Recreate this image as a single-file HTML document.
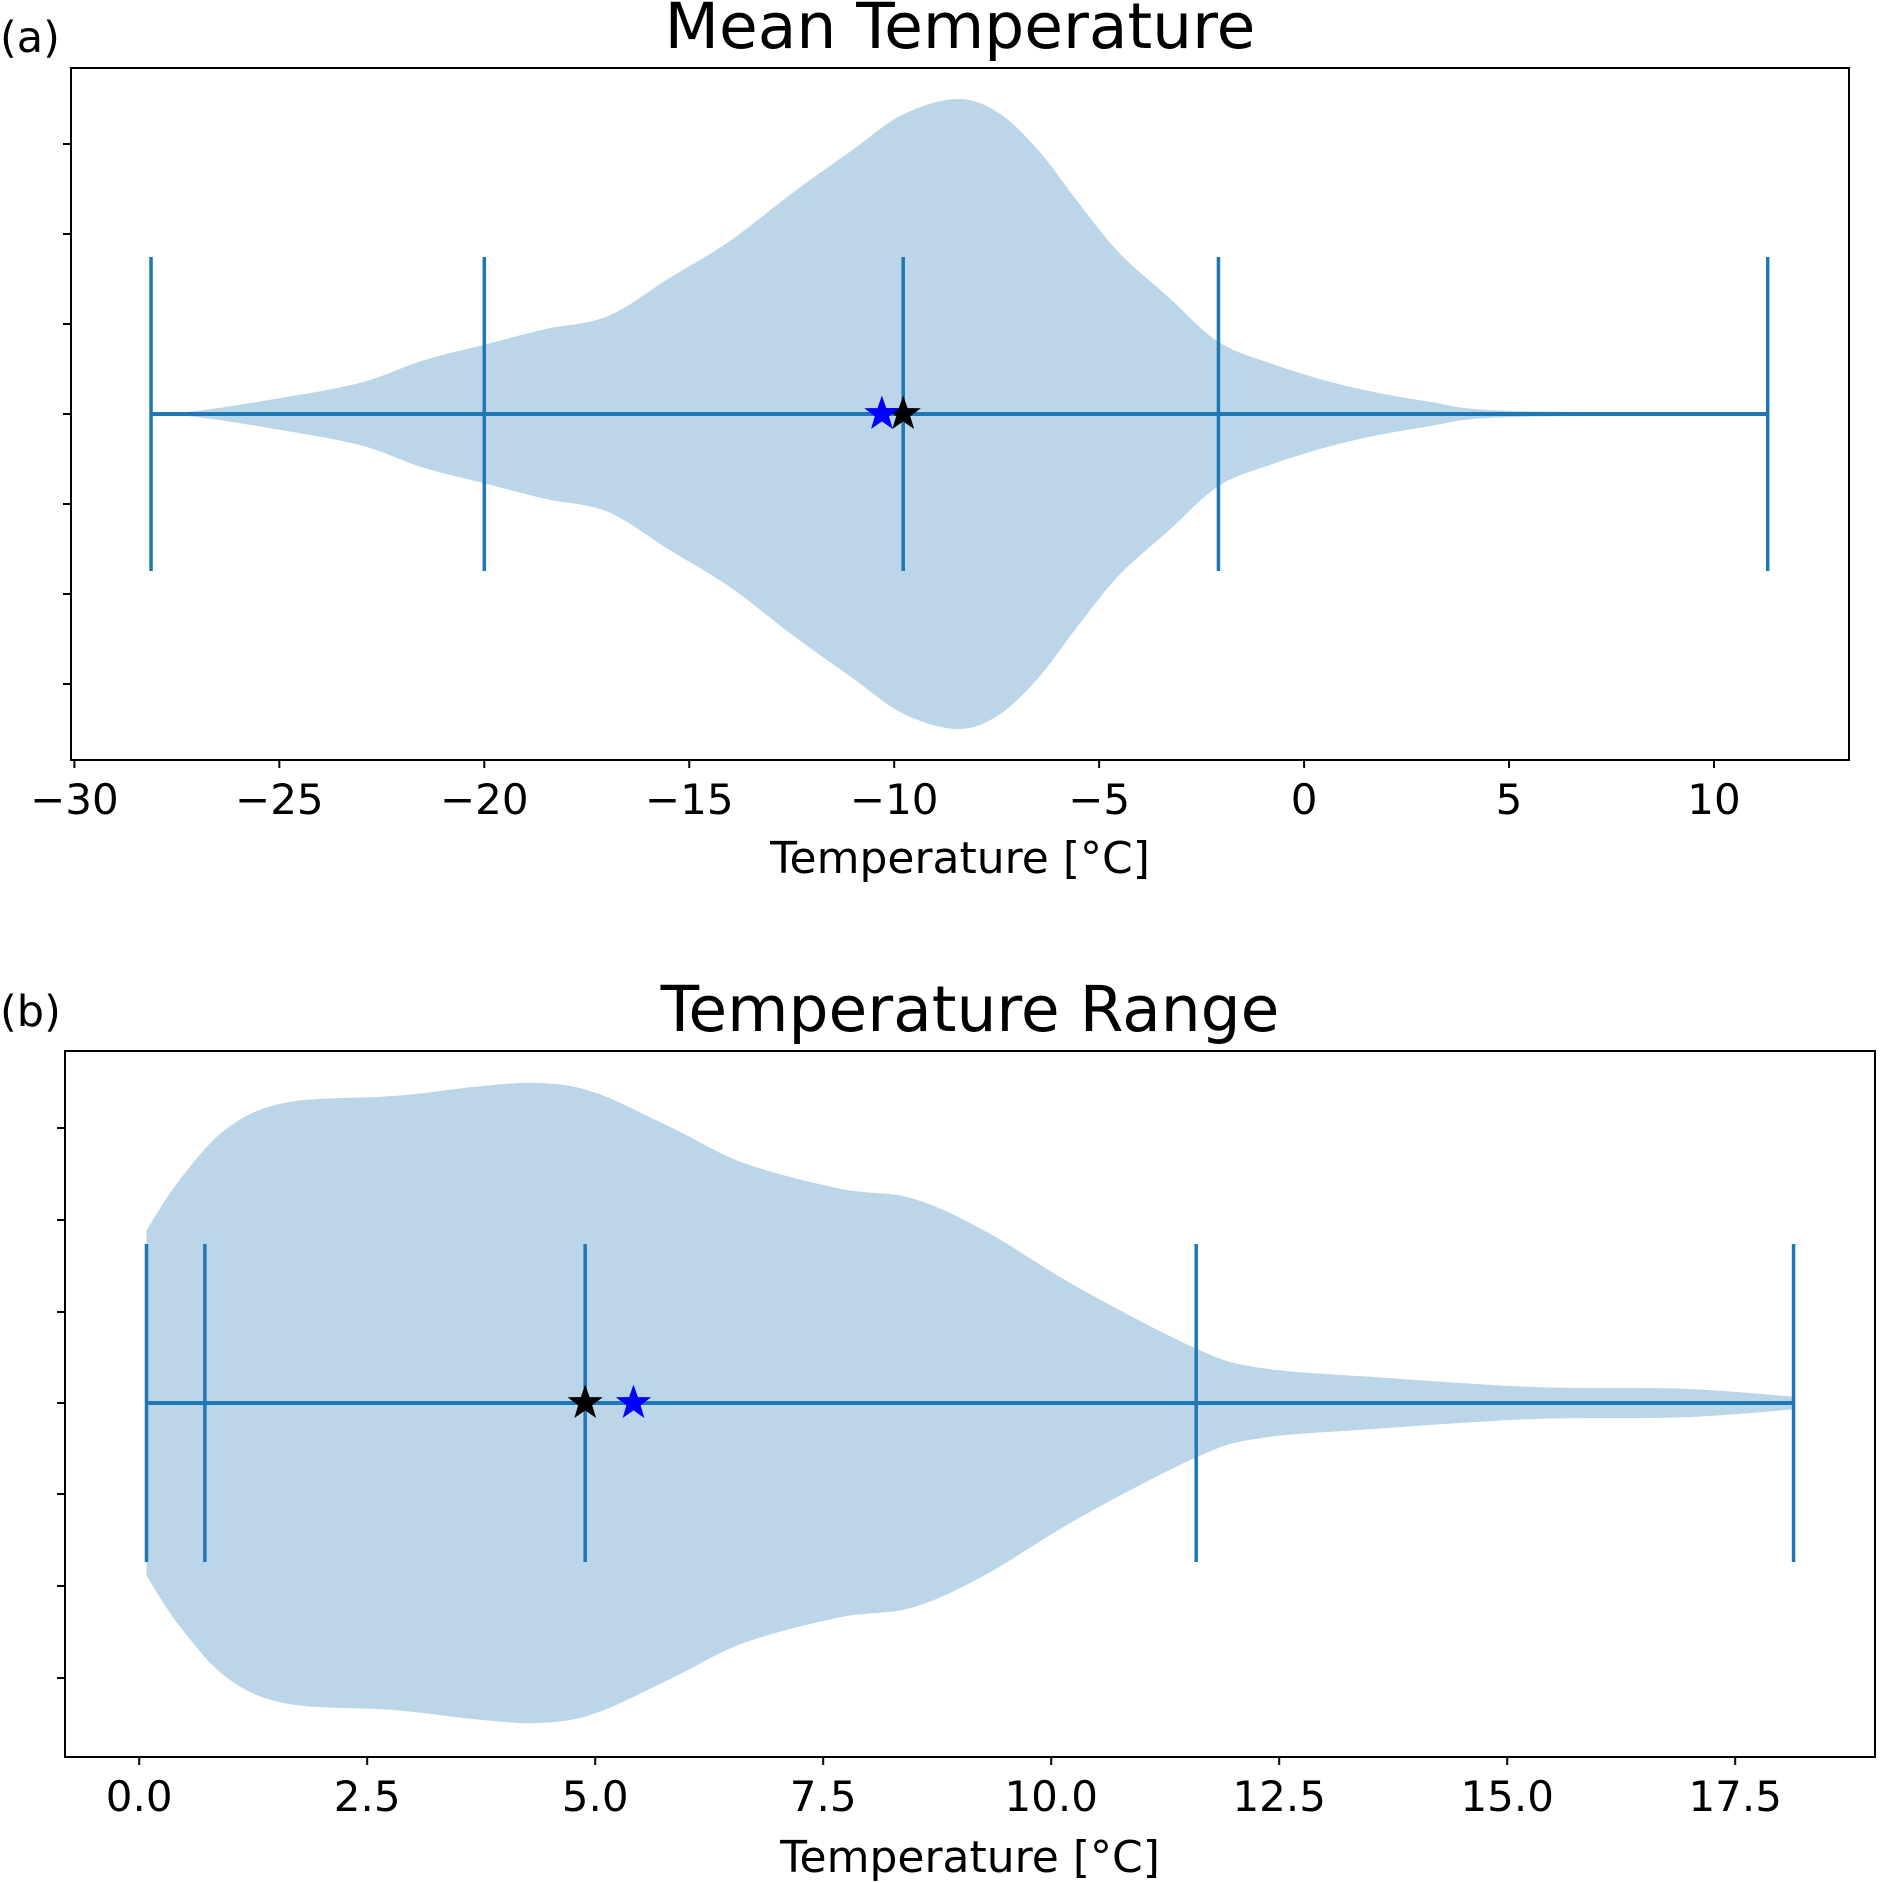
<!DOCTYPE html>
<html><head><meta charset="utf-8"><style>
html,body{margin:0;padding:0;background:#fff}
svg{display:block;font-family:"DejaVu Sans","Liberation Sans",sans-serif}
</style></head><body>
<svg id="fig" width="1880" height="1883" viewBox="0 0 1880 1883"></svg>
<script>
// Panel (a) data
const aTicks = [-30,-25,-20,-15,-10,-5,0,5,10];
const aLines = [-28.13,-20.0,-9.78,-2.09,11.31];
const aProfileX = [-28.13,-27,-25,-23,-21.5,-20,-18.5,-17,-15.5,-14,-12.5,-11,-9.8,-8.5,-7.5,-6.5,-5.5,-4.5,-3.3,-2.1,-0.8,1,3,5,11.31];
const aProfileD = [0,0.01,0.05,0.10,0.17,0.22,0.27,0.31,0.43,0.55,0.70,0.84,0.95,1.0,0.96,0.84,0.67,0.51,0.37,0.23,0.16,0.09,0.04,0.01,0.005];
const aStarBlue = -10.3, aStarBlack = -9.78;
// Panel (b) data
const bTicks = [0,2.5,5,7.5,10,12.5,15,17.5];
const bLines = [0.08,0.72,4.89,11.59,18.14];
const bProfileX = [0.08,0.45,0.97,1.63,2.82,3.74,4.4,5.0,5.84,6.63,7.68,8.47,9.26,10.3,11.59,12.29,13.6,15.3,16.9,18.14];
const bProfileD = [0.54,0.70,0.86,0.94,0.96,0.99,1.0,0.97,0.86,0.75,0.67,0.64,0.54,0.36,0.17,0.11,0.08,0.05,0.045,0.02];
const bStarBlack = 4.89, bStarBlue = 5.42;

const NS='http://www.w3.org/2000/svg';
const svg=document.getElementById('fig');
function mk(tag,attrs,parent){const e=document.createElementNS(NS,tag);for(const k in attrs)e.setAttribute(k,attrs[k]);(parent||svg).appendChild(e);return e;}
function smooth(pts){let d='M'+pts[0][0]+','+pts[0][1];for(let i=0;i<pts.length-1;i++){const p0=pts[i-1]||pts[i],p1=pts[i],p2=pts[i+1],p3=pts[i+2]||p2;const c1=[p1[0]+(p2[0]-p0[0])/6,p1[1]+(p2[1]-p0[1])/6],c2=[p2[0]-(p3[0]-p1[0])/6,p2[1]-(p3[1]-p1[1])/6];d+=' C'+c1+' '+c2+' '+p2;}return d;}
function star(cx,cy,r){let p=[];for(let i=0;i<10;i++){const a=-Math.PI/2+i*Math.PI/5;const rr=i%2?r*0.4:r;p.push((cx+rr*Math.cos(a)).toFixed(1)+','+(cy+rr*Math.sin(a)).toFixed(1));}return p.join(' ');}

function panel(o){
  const g=mk('g',{});
  
  
  const X=v=>o.x0+(v-o.v0)*o.k;
  const top=[],bot=[];
  o.px.forEach((v,i)=>{top.push([X(v),o.cy-o.pd[i]*o.maxW]);});
  for(let i=o.px.length-1;i>=0;i--)bot.push([X(o.px[i]),o.cy+o.pd[i]*o.maxW]);
  let d=smooth(top)+' L'+bot[0]+smooth(bot).replace(/^M[^ C]+/,'')+' Z';
  const body=mk('path',{d:d,fill:'#1f77b4','fill-opacity':0.3},g);
  
  
  const hl=mk('line',{x1:X(o.lines[0]),x2:X(o.lines[o.lines.length-1]),y1:o.cy,y2:o.cy,stroke:'#1f77b4','stroke-width':4},g);
  
  
  o.lines.forEach(v=>{const l=mk('line',{x1:X(v),x2:X(v),y1:o.cy-o.lh,y2:o.cy+o.lh,stroke:'#1f77b4','stroke-width':3.5},g);
    
    });
  o.stars.forEach(s=>{const st=mk('polygon',{points:star(X(s[0]),o.cy,17),fill:s[1],stroke:s[1],'stroke-width':1},g);
    
    });
  const fr=mk('rect',{x:o.L,y:o.T,width:o.R-o.L,height:o.B-o.T,fill:'none',stroke:'#000','stroke-width':2},g);
  
  
  o.yt.forEach(y=>{const t=mk('line',{x1:o.L-8,x2:o.L,y1:y,y2:y,stroke:'#000','stroke-width':2},g);
    
    });
  o.ticks.forEach(v=>{const t=mk('line',{x1:X(v),x2:X(v),y1:o.B,y2:o.B+8,stroke:'#000','stroke-width':2},g);
    
    
    const lb=mk('text',{x:X(v),y:o.B+54,'font-size':42,'text-anchor':'middle'},g);
    lb.textContent=o.fmt(v).replace('-','\u2212');
    
    });
  const xl=mk('text',{x:(o.L+o.R)/2,y:o.xlY,'font-size':44,'text-anchor':'middle'},g);
  xl.textContent='Temperature [°C]';
  
  
  const ti=mk('text',{x:(o.L+o.R)/2,y:o.T-20,'font-size':63,'text-anchor':'middle'},g);
  ti.textContent=o.title;
  
  
  const pl=mk('text',{x:0,y:o.labY,'font-size':43},g);
  pl.textContent=o.lab;
  
  
}
panel({name:'panel-a-mean-temperature',L:71,R:1849,T:68,B:760,x0:74.4,v0:-30,k:40.99,cy:414,maxW:315,lh:157,
  px:aProfileX,pd:aProfileD,lines:aLines,ticks:aTicks,fmt:v=>String(v),
  stars:[[aStarBlack,'#000','star-black'],[aStarBlue,'#0000ff','star-blue']],
  yt:[144,234,324,414,504,594,684],xlY:873,title:'Mean Temperature',lab:'(a)',labY:52});
panel({name:'panel-b-temperature-range',L:65,R:1875,T:1051,B:1757,x0:139.2,v0:0,k:91.2,cy:1403,maxW:320,lh:159,
  px:bProfileX,pd:bProfileD,lines:bLines,ticks:bTicks,fmt:v=>v.toFixed(1),
  stars:[[bStarBlack,'#000','star-black'],[bStarBlue,'#0000ff','star-blue']],
  yt:[1128,1220,1312,1403,1494,1586,1678],xlY:1872,title:'Temperature Range',lab:'(b)',labY:1026});
</script>
</body></html>
